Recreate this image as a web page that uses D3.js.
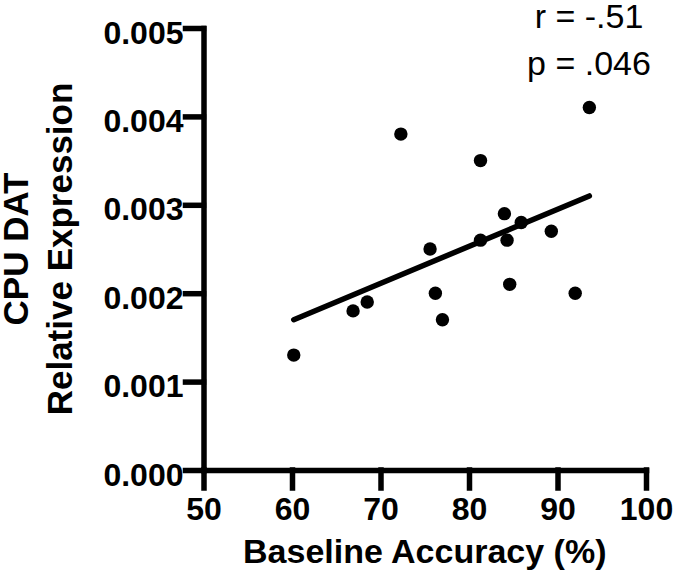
<!DOCTYPE html>
<html>
<head>
<meta charset="utf-8">
<script src="https://cdn.jsdelivr.net/npm/d3@7"></script>
<style>
  html, body { margin: 0; padding: 0; background: #fff; }
  svg { display: block; }
  text { font-family: "Liberation Sans", Arial, Helvetica, sans-serif; fill: #000; }
</style>
</head>
<body>
<svg id="chart" width="675" height="575"></svg>
<script>
// ---- data ----
const accuracy = [93.6, 72.3, 81.3, 84.0, 85.9, 89.3, 81.3, 84.3, 75.6, 76.2, 84.6, 92.0, 77.0, 60.2, 66.9, 68.5];
const expression = [0.0041, 0.0038, 0.0035, 0.0029, 0.0028, 0.0027, 0.0026, 0.0026, 0.0025, 0.0020, 0.0021, 0.0020, 0.0017, 0.0013, 0.0018, 0.0019];
const fitX = [60.2, 93.6];
const fitY = [0.0017, 0.0031];
const xTicks = [50, 60, 70, 80, 90, 100];
const yTicks = [0.000, 0.001, 0.002, 0.003, 0.004, 0.005];
const statLines = ["r = -.51", "p = .046"];
const xTitle = "Baseline Accuracy (%)";
const yTitleLines = ["CPU DAT", "Relative Expression"];

// ---- layout ----
const svg = d3.select("#chart");
const mLeft = 203.5, mRight = 646, mTop = 28, mBottom = 470;

const x = d3.scaleLinear().domain([50, 100]).range([mLeft, mRight]);
const y = d3.scaleLinear().domain([0, 0.005]).range([mBottom, mTop]);

const AXW = 5.5;

// x axis
const gx = svg.append("g")
  .attr("transform", `translate(0,${mBottom})`)
  .call(d3.axisBottom(x).tickValues(xTicks).tickFormat(d3.format("d"))
        .tickSize(18).tickSizeOuter(0).tickPadding(9));
// y axis
const gy = svg.append("g")
  .attr("transform", `translate(${mLeft},0)`)
  .call(d3.axisLeft(y).tickValues(yTicks).tickFormat(d3.format(".3f"))
        .tickSize(18).tickSizeOuter(0).tickPadding(2));

[gx, gy].forEach(g => {
  g.select(".domain").attr("stroke", "#000").attr("stroke-width", AXW).attr("stroke-linecap", "square");
  g.selectAll(".tick line").attr("stroke", "#000").attr("stroke-width", AXW).attr("stroke-linecap", "square");
  g.selectAll(".tick text")
    .attr("font-family", "'Liberation Sans', Arial, Helvetica, sans-serif")
    .attr("font-weight", "bold")
    .attr("font-size", 32)
    .attr("fill", "#000");
});
gy.selectAll(".tick text").attr("dy", "0.47em");

// regression line
svg.append("line")
  .attr("x1", x(fitX[0])).attr("y1", y(fitY[0]))
  .attr("x2", x(fitX[1])).attr("y2", y(fitY[1]))
  .attr("stroke", "#000").attr("stroke-width", 5.5).attr("stroke-linecap", "round");

// points
svg.append("g").selectAll("circle")
  .data(accuracy.map((a, i) => [a, expression[i]]))
  .join("circle")
  .attr("cx", d => x(d[0]))
  .attr("cy", d => y(d[1]))
  .attr("r", 6.7)
  .attr("fill", "#000");

// stats text
svg.append("g").selectAll("text")
  .data(statLines)
  .join("text")
  .attr("x", 589)
  .attr("y", (d, i) => 28 + i * 47)
  .attr("text-anchor", "middle")
  .attr("font-size", 34)
  .text(d => d);

// x title
svg.append("text")
  .attr("x", (mLeft + mRight) / 2)
  .attr("y", 563)
  .attr("text-anchor", "middle")
  .attr("font-size", 34)
  .attr("font-weight", "bold")
  .text(xTitle);

// y title
const midY = (mTop + mBottom) / 2;
svg.append("g").selectAll("text")
  .data(yTitleLines)
  .join("text")
  .attr("transform", (d, i) => `translate(${28 + i * 44},${midY}) rotate(-90)`)
  .attr("text-anchor", "middle")
  .attr("font-size", 35)
  .attr("font-weight", "bold")
  .text(d => d);
</script>
</body>
</html>
